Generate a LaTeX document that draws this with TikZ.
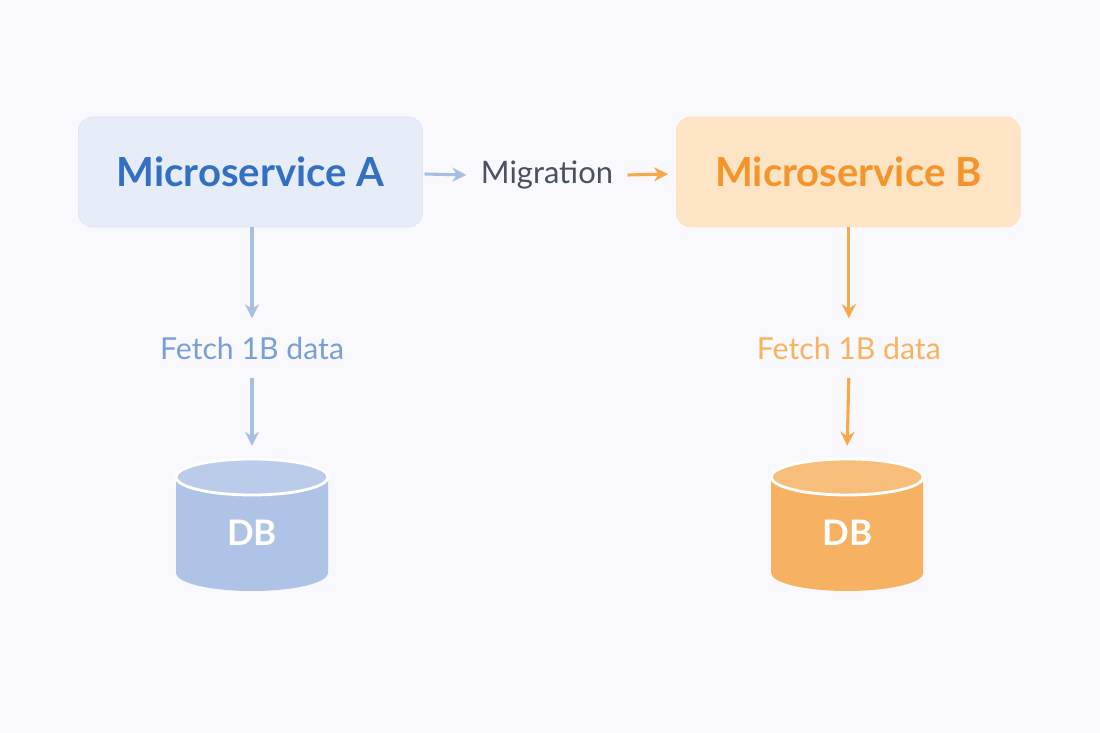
\documentclass[tikz,border=0pt]{standalone}
\usepackage{fontspec}
\setmainfont{Lato}
\usetikzlibrary{arrows.meta}
\definecolor{bgc}{HTML}{F9F8FC}
\definecolor{blueTxt}{HTML}{3470C2}
\definecolor{blueBox}{HTML}{E6ECF8}
\definecolor{blueLine}{HTML}{A9BEE3}
\definecolor{blueLbl}{HTML}{7A9FD6}
\definecolor{blueDB}{HTML}{AFC3E6}
\definecolor{orgTxt}{HTML}{F5942A}
\definecolor{orgBox}{HTML}{FDE4C4}
\definecolor{orgLine}{HTML}{F7A84A}
\definecolor{orgLbl}{HTML}{F8B35E}
\definecolor{orgDB}{HTML}{F6B262}
\definecolor{greyTxt}{HTML}{4A5260}
\tikzset{
  svc/.style={rounded corners=10pt, minimum width=8.6cm, minimum height=2.75cm, font=\bfseries\fontsize{28.5}{31}\selectfont},
  lbl/.style={font=\fontsize{21.5}{24}\selectfont, outer sep=0.35cm},
  arr/.style={line width=2.2pt, -{Stealth[length=10pt,width=10pt]}}
}
\newcommand{\dbcyl}[3]{% x, color, name
  \fill[#2] (#1-1.9,6.4) -- (#1-1.9,4.0) arc(180:360:1.9 and 0.45) -- (#1+1.9,6.4) -- cycle;
  \filldraw[#2!85!white, draw=white, line width=2pt] (#1,6.4) ellipse (1.9 and 0.45);
  \node[text=white, font=\bfseries\fontsize{25}{27}\selectfont] (#3) at (#1,5.0) {DB};
}
\begin{document}
\begin{tikzpicture}
\fill[bgc] (0,0) rectangle (27.5,18.325);
\useasboundingbox (0,0) rectangle (27.5,18.325);

\node[svc, fill=blueBox, draw=blueBox!80!blueLine, text=blueTxt] (svcA) at (6.26,14.025) {Microservice A};
\node[svc, fill=orgBox, draw=orgBox, text=orgTxt] (svcB) at (21.21,14.025) {Microservice B};
\node[lbl, font=\fontsize{22}{24}\selectfont, text=greyTxt, outer sep=0.25cm] (mig) at (13.675,13.95) {Migration};
\draw[arr, blueLine] ([shift={(0.05,-0.05)}]svcA.east) -- (mig.west);
\draw[arr, orgLine] (mig.east) -- ([shift={(-0.2,-0.05)}]svcB.west);

\node[lbl, text=blueLbl] (fetchA) at (6.3,9.62) {Fetch 1B data};
\node[lbl, text=orgLbl] (fetchB) at (21.22,9.62) {Fetch 1B data};

\dbcyl{6.3}{blueDB}{dbA}
\dbcyl{21.18}{orgDB}{dbB}

\draw[arr, blueLine] (svcA.south -| fetchA) -- (fetchA.north);
\draw[arr, blueLine] (fetchA.south) -- (6.3,7.18);
\draw[arr, orgLine] (svcB.south -| fetchB) -- (fetchB.north);
\draw[arr, orgLine] (fetchB.south) -- (21.18,7.18);
\end{tikzpicture}
\end{document}
